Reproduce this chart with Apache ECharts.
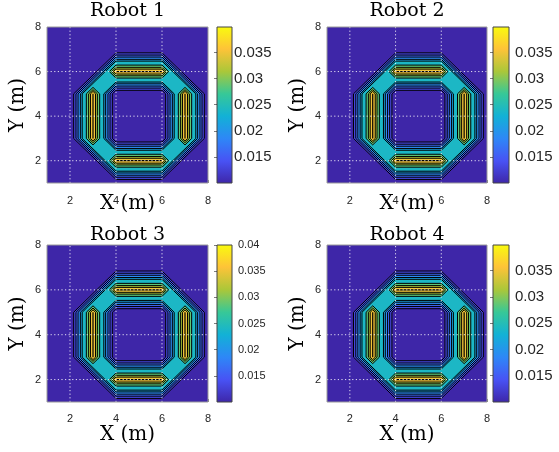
<!DOCTYPE html>
<html><head><meta charset="utf-8">
<script src="https://cdn.jsdelivr.net/npm/echarts@6/dist/echarts.min.js"></script>
<style>html,body{margin:0;padding:0;background:#fff}#c{width:559px;height:452px}</style>
</head><body><div id="c"></div><script>
// ---------------- data ----------------
const robotTitles = ['Robot 1', 'Robot 2', 'Robot 3', 'Robot 4'];
const axisRange = [1, 8];
const axisTicks = [2, 4, 6, 8];
const gridLinesAt = [2, 4, 6];
const colorMin = [0.0100, 0.0100, 0.0100, 0.0100];
const colorMax = [0.0399, 0.0399, 0.0400, 0.0399];
const colorbarTicks = [
  [0.015, 0.02, 0.025, 0.03, 0.035],
  [0.015, 0.02, 0.025, 0.03, 0.035],
  [0.015, 0.02, 0.025, 0.03, 0.035, 0.04],
  [0.015, 0.02, 0.025, 0.03, 0.035]
];
// robot loop (octagon) and the four straight bars where coverage peaks
const loopVertices = [[4, 6], [6, 6], [7, 5], [7, 3], [6, 2], [4, 2], [3, 3], [3, 5]];
const barSegments = [[[4, 6], [6, 6]], [[7, 5], [7, 3]], [[6, 2], [4, 2]], [[3, 3], [3, 5]]];
// ring-shaped contour levels and their distance (m) from the loop
const ringLevels = [0.013, 0.016, 0.019, 0.0215, 0.024];
const ringOffsets = [0.84, 0.74, 0.65, 0.55, 0.47];
// island contour levels around each bar and their distance (m) from the bar
const islandLevels = [0.0285, 0.0315, 0.035];
const islandOffsets = [0.29, 0.19, 0.11];
const peakLevel = 0.0395;

// ---------------- layout / style ----------------
const panels = [
  {left: 47, top: 27, width: 161, height: 156, cbLeft: 217, cbWidth: 15, cbMargin: 2, cbFont: 15, xNameGap: 11, xLabelMargin: 12, titleY: 11.5},
  {left: 327, top: 27, width: 160, height: 156, cbLeft: 493, cbWidth: 16, cbMargin: 6, cbFont: 15, xNameGap: 11, xLabelMargin: 12, titleY: 11.5},
  {left: 47, top: 245, width: 161, height: 157, cbLeft: 217, cbWidth: 15, cbMargin: 6, cbFont: 11, xNameGap: 23, xLabelMargin: 11, titleY: 235},
  {left: 327, top: 245, width: 160, height: 157, cbLeft: 493, cbWidth: 16, cbMargin: 6, cbFont: 15, xNameGap: 23, xLabelMargin: 11, titleY: 235}
];
const parulaStops = [[62,38,168],[72,82,244],[46,135,247],[18,177,214],[55,200,151],[171,199,57],[254,195,56],[249,251,14]];
function parula(t) {
  t = Math.max(0, Math.min(1, t));
  const s = t * (parulaStops.length - 1);
  const i = Math.min(parulaStops.length - 2, Math.floor(s));
  const f = s - i, a = parulaStops[i], b = parulaStops[i + 1];
  return 'rgb(' + [0,1,2].map(k => Math.round(a[k] + (b[k] - a[k]) * f)).join(',') + ')';
}
const AX = '#262626';
const SERIF = '"DejaVu Serif", "Liberation Serif", serif';
const SANS = '"Liberation Sans", Arial, sans-serif';

// ---------------- geometry helpers (data space) ----------------
function offsetLoop(verts, d) {
  const n = verts.length;
  let cx = 0, cy = 0;
  verts.forEach(v => { cx += v[0]; cy += v[1]; });
  cx /= n; cy /= n;
  const lines = [];
  for (let i = 0; i < n; i++) {
    const p = verts[i], q = verts[(i + 1) % n];
    let a = q[1] - p[1], b = -(q[0] - p[0]);
    const m = Math.max(Math.abs(a), Math.abs(b));
    a /= m; b /= m;
    if (a * (p[0] - cx) + b * (p[1] - cy) < 0) { a = -a; b = -b; }
    lines.push([a, b, a * p[0] + b * p[1] + d]);
  }
  const out = [];
  for (let i = 0; i < n; i++) {
    const L1 = lines[(i - 1 + n) % n], L2 = lines[i];
    const det = L1[0] * L2[1] - L1[1] * L2[0];
    out.push([(L1[2] * L2[1] - L1[1] * L2[2]) / det, (L1[0] * L2[2] - L1[2] * L2[0]) / det]);
  }
  return out;
}
function islandPoly(seg, d) {
  const A = seg[0], B = seg[1];
  const L = Math.hypot(B[0] - A[0], B[1] - A[1]);
  const ux = (B[0] - A[0]) / L, uy = (B[1] - A[1]) / L, nx = -uy, ny = ux;
  return [[A[0] - d * ux, A[1] - d * uy], [A[0] + d * nx, A[1] + d * ny], [B[0] + d * nx, B[1] + d * ny],
          [B[0] + d * ux, B[1] + d * uy], [B[0] - d * nx, B[1] - d * ny], [A[0] - d * nx, A[1] - d * ny]];
}
function buildShapes(r) {
  const shapes = [];
  const lo = colorMin[r];
  shapes.push({kind: 'bg', level: lo});
  ringLevels.forEach((lv, k) => shapes.push({kind: 'poly', pts: offsetLoop(loopVertices, ringOffsets[k]), level: lv}));
  for (let k = ringLevels.length - 1; k >= 0; k--) {
    shapes.push({kind: 'poly', pts: offsetLoop(loopVertices, -ringOffsets[k]), level: k > 0 ? ringLevels[k - 1] : lo});
  }
  islandLevels.forEach((lv, k) => barSegments.forEach(seg => shapes.push({kind: 'poly', pts: islandPoly(seg, islandOffsets[k]), level: lv})));
  barSegments.forEach(seg => shapes.push({kind: 'line', pts: seg, level: peakLevel}));
  return shapes;
}

// ---------------- option ----------------
const grids = [], xAxes = [], yAxes = [], series = [], graphics = [];
panels.forEach((p, r) => {
  const gi = grids.length;
  grids.push({left: p.left, top: p.top, width: p.width, height: p.height, containLabel: false});
  xAxes.push({gridIndex: gi, type: 'value', min: axisRange[0], max: axisRange[1], z: 1,
    name: 'X (m)', nameLocation: 'middle', nameGap: p.xNameGap, nameMoveOverlap: false,
    nameTextStyle: {fontFamily: SERIF, fontSize: 20, color: '#000'},
    axisLine: {show: false}, splitLine: {show: false},
    axisTick: {show: true, inside: true, length: 3, customValues: axisTicks, lineStyle: {color: AX, width: 0.6}},
    axisLabel: {customValues: axisTicks, margin: p.xLabelMargin, fontFamily: SANS, fontSize: 11, color: AX}});
  yAxes.push({gridIndex: gi, type: 'value', min: axisRange[0], max: axisRange[1], z: 1,
    name: 'Y (m)', nameLocation: 'middle', nameGap: 19, nameMoveOverlap: false,
    nameTextStyle: {fontFamily: SERIF, fontSize: 20, color: '#000'},
    axisLine: {show: false}, splitLine: {show: false},
    axisTick: {show: true, inside: true, length: 3, customValues: axisTicks, lineStyle: {color: AX, width: 0.6}},
    axisLabel: {customValues: axisTicks, margin: 6, fontFamily: SANS, fontSize: 11, color: AX}});
  const shapes = buildShapes(r);
  const lo = colorMin[r], hi = colorMax[r];
  series.push({type: 'custom', xAxisIndex: gi, yAxisIndex: gi, z: 2, clip: true, silent: true,
    data: shapes.map((s, i) => [i]),
    renderItem: function (params, api) {
      const s = shapes[params.dataIndex];
      const fill = parula((s.level - lo) / (hi - lo));
      if (s.kind === 'bg') {
        const a = api.coord([axisRange[0], axisRange[1]]), b = api.coord([axisRange[1], axisRange[0]]);
        return {type: 'rect', shape: {x: a[0], y: a[1], width: b[0] - a[0], height: b[1] - a[1]}, style: {fill: fill}};
      }
      const pts = s.pts.map(q => api.coord(q));
      if (s.kind === 'line') {
        return {type: 'polyline', shape: {points: pts}, style: {stroke: '#000', lineWidth: 1.2, fill: null}};
      }
      return {type: 'polygon', shape: {points: pts}, style: {fill: fill, stroke: '#000', lineWidth: 1}};
    }});
  // grid lines + box on top
  series.push({type: 'custom', xAxisIndex: gi, yAxisIndex: gi, z: 4, silent: true, data: [[0]],
    renderItem: function (params, api) {
      const ch = [];
      gridLinesAt.forEach(v => {
        const a = api.coord([v, axisRange[0]]), b = api.coord([v, axisRange[1]]);
        ch.push({type: 'line', shape: {x1: a[0], y1: a[1], x2: b[0], y2: b[1]}, style: {stroke: 'rgba(255,255,255,0.85)', lineWidth: 1, lineDash: [1.2, 2.4]}});
        const c = api.coord([axisRange[0], v]), d = api.coord([axisRange[1], v]);
        ch.push({type: 'line', shape: {x1: c[0], y1: c[1], x2: d[0], y2: d[1]}, style: {stroke: 'rgba(255,255,255,0.85)', lineWidth: 1, lineDash: [1.2, 2.4]}});
      });
      const a = api.coord([axisRange[0], axisRange[1]]), b = api.coord([axisRange[1], axisRange[0]]);
      ch.push({type: 'rect', shape: {x: a[0], y: a[1], width: b[0] - a[0], height: b[1] - a[1]}, style: {fill: null, stroke: '#9a9a9a', lineWidth: 1}});
      return {type: 'group', children: ch};
    }});
  // colorbar
  const ci = grids.length;
  grids.push({left: p.cbLeft, top: p.top, width: p.cbWidth, height: p.height});
  xAxes.push({gridIndex: ci, type: 'value', min: 0, max: 1, show: false});
  yAxes.push({gridIndex: ci, type: 'value', min: lo, max: hi, position: 'right', z: 5,
    axisLine: {show: false}, splitLine: {show: false},
    axisTick: {show: true, inside: true, length: 3, customValues: colorbarTicks[r], lineStyle: {color: AX, width: 0.6}},
    axisLabel: {customValues: colorbarTicks[r], margin: p.cbMargin, fontFamily: SANS, fontSize: p.cbFont, color: AX}});
  series.push({type: 'custom', xAxisIndex: ci, yAxisIndex: ci, z: 2, silent: true, data: [[0]],
    renderItem: function (params, api) {
      const a = api.coord([0, hi]), b = api.coord([1, lo]);
      const stops = parulaStops.map((c, k) => ({offset: k / (parulaStops.length - 1), color: 'rgb(' + c.join(',') + ')'}));
      return {type: 'rect', shape: {x: a[0], y: a[1], width: b[0] - a[0], height: b[1] - a[1]},
        style: {fill: new echarts.graphic.LinearGradient(0, 1, 0, 0, stops), stroke: '#444', lineWidth: 1}};
    }});
  graphics.push({type: 'text', x: p.left + p.width / 2, y: p.titleY,
    style: {text: robotTitles[r], font: '19px ' + SERIF, fill: '#000', align: 'center', verticalAlign: 'middle', textAlign: 'center', textVerticalAlign: 'middle'}});
});

const chart = echarts.init(document.getElementById('c'), null, {renderer: 'canvas'});
chart.setOption({animation: false, backgroundColor: '#fff', grid: grids, xAxis: xAxes, yAxis: yAxes, series: series, graphic: graphics});
</script></body></html>
